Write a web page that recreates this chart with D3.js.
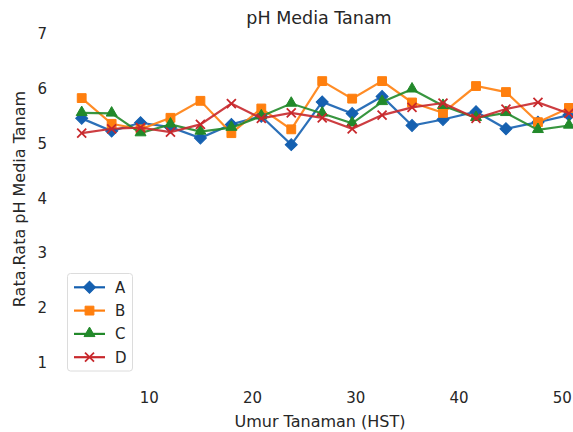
<!DOCTYPE html>
<html><head><meta charset="utf-8">
<script src="https://cdn.jsdelivr.net/npm/d3@7"></script>
<style>body{margin:0;background:#fff}svg{display:block}text{font-family:"DejaVu Sans",sans-serif;fill:#262626}</style>
</head><body><svg id="c" width="573" height="432"></svg>
<script>
const days = [3.5, 6.4, 9.2, 12.1, 15.0, 18.0, 20.9, 23.8, 26.8, 29.7, 32.6, 35.5, 38.5, 41.7, 44.6, 47.7, 50.7];
const seriesA = [5.46, 5.23, 5.38, 5.30, 5.10, 5.35, 5.50, 4.98, 5.76, 5.55, 5.86, 5.33, 5.44, 5.58, 5.27, 5.39, 5.52];
const seriesB = [5.83, 5.36, 5.26, 5.47, 5.78, 5.19, 5.64, 5.26, 6.14, 5.82, 6.14, 5.75, 5.56, 6.05, 5.94, 5.39, 5.65];
const seriesC = [5.56, 5.55, 5.19, 5.35, 5.22, 5.29, 5.50, 5.73, 5.55, 5.37, 5.76, 5.99, 5.69, 5.47, 5.56, 5.25, 5.33];
const seriesD = [5.19, 5.27, 5.29, 5.21, 5.35, 5.73, 5.46, 5.56, 5.47, 5.27, 5.52, 5.66, 5.74, 5.46, 5.63, 5.75, 5.55];
const seriesNames = ["A", "B", "C", "D"];
const xTicks = [10, 20, 30, 40, 50];
const yTicks = [1, 2, 3, 4, 5, 6, 7];
const colors = ["#1560b0", "#ff7f0e", "#22892a", "#c8282c"];
const symbols = ["diamond", "square", "triangle", "x"];
const titleText = "pH Media Tanam";
const xLabel = "Umur Tanaman (HST)";
const yLabel = "Rata.Rata pH Media Tanam";

const svg = d3.select("#c");
const x = d3.scaleLinear().domain([10, 50]).range([148.8, 561.7]);
const y = d3.scaleLinear().domain([1, 7]).range([362.7, 34]);

const data = [seriesA, seriesB, seriesC, seriesD].map((vals, i) => ({
  name: seriesNames[i], color: colors[i], symbol: symbols[i],
  points: vals.map((v, j) => ({x: days[j], y: v}))
}));

function marker(sel, kind, color) {
  if (kind === "diamond") {
    sel.append("path").attr("d", d3.symbol(d3.symbolSquare, 72)()).attr("transform", "rotate(45)")
      .attr("fill", color).attr("stroke", color).attr("stroke-width", 1);
  } else if (kind === "square") {
    sel.append("path").attr("d", d3.symbol(d3.symbolSquare, 78)()).attr("fill", color).attr("stroke", color).attr("stroke-width", 1);
  } else if (kind === "triangle") {
    sel.append("path").attr("d", d3.symbol(d3.symbolTriangle, 52)()).attr("transform", "translate(0,-0.5)")
      .attr("fill", color).attr("stroke", color).attr("stroke-width", 1);
  } else {
    sel.append("path").attr("d", "M-4.5,-4.5L4.5,4.5M-4.5,4.5L4.5,-4.5").attr("fill", "none").attr("stroke", color).attr("stroke-width", 1.8);
  }
}

// axes (labels only, no lines/ticks)
const xAxis = d3.axisBottom(x).tickValues(xTicks).tickFormat(d3.format("d")).tickSize(0).tickPadding(0);
const gx = svg.append("g").attr("transform", "translate(0,398)").call(xAxis);
gx.select(".domain").remove();
gx.selectAll("text").attr("font-size", 15).attr("dy", "0.36em").attr("y", 0).style("font-family", "DejaVu Sans").attr("fill", "#262626");

const yAxis = d3.axisLeft(y).tickValues(yTicks).tickFormat(d3.format("d")).tickSize(0).tickPadding(0);
const gy = svg.append("g").attr("transform", "translate(47,0)").call(yAxis);
gy.select(".domain").remove();
gy.selectAll("text").attr("font-size", 15).style("font-family", "DejaVu Sans").attr("fill", "#262626");

svg.append("text").attr("x", 319).attr("y", 24).attr("text-anchor", "middle").attr("font-size", 17.5).text(titleText);
svg.append("text").attr("x", 320).attr("y", 427).attr("text-anchor", "middle").attr("font-size", 16).text(xLabel);
svg.append("text").attr("transform", "translate(25,199) rotate(-90)").attr("text-anchor", "middle").attr("font-size", 16).text(yLabel);

const line = d3.line().x(d => x(d.x)).y(d => y(d.y));
data.forEach(s => {
  const g = svg.append("g");
  g.append("path").attr("d", line(s.points)).attr("fill", "none").attr("stroke", s.color).attr("stroke-width", 2.2).attr("stroke-opacity", 0.9);
  s.points.forEach(p => {
    const mg = g.append("g").attr("transform", `translate(${x(p.x)},${y(p.y)})`);
    marker(mg, s.symbol, s.color);
  });
});

// legend
const lg = svg.append("g");
lg.append("rect").attr("x", 67.5).attr("y", 273.5).attr("width", 65).attr("height", 97.5).attr("rx", 3)
  .attr("fill", "#fff").attr("fill-opacity", 0.8).attr("stroke", "#dcdcdc").attr("stroke-width", 1);
data.forEach((s, i) => {
  const yy = 287.3 + i * 23.3;
  lg.append("line").attr("x1", 74).attr("x2", 105).attr("y1", yy).attr("y2", yy).attr("stroke", s.color).attr("stroke-width", 2.2);
  marker(lg.append("g").attr("transform", `translate(89.5,${yy})`), s.symbol, s.color);
  lg.append("text").attr("x", 115).attr("y", yy).attr("dy", "0.36em").attr("font-size", 15).text(s.name);
});
</script></body></html>
